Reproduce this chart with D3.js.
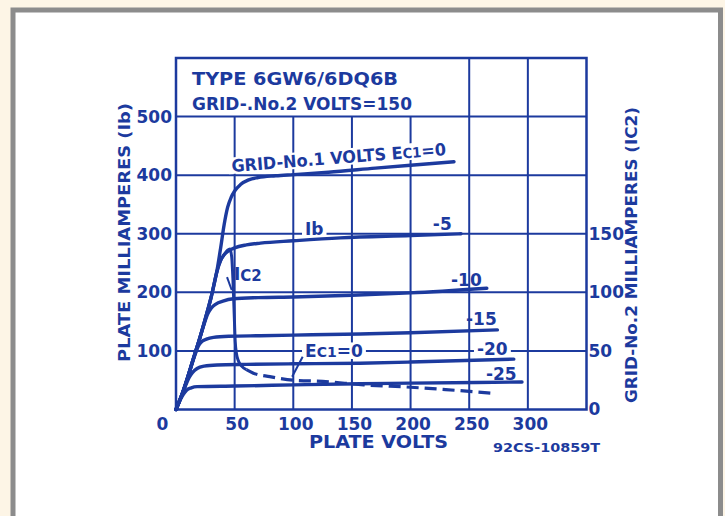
<!DOCTYPE html>
<html><head><meta charset="utf-8">
<script src="https://cdn.jsdelivr.net/npm/d3@7"></script>
<style>
html,body{margin:0;padding:0;background:#fdf5e6;}
svg{display:block;}
text{font-family:"DejaVu Sans",sans-serif;font-weight:bold;fill:#1c3a9e;}
</style></head><body>
<svg id="chart" width="725" height="516"></svg>
<script>
// ---------------- data ----------------
const plateVoltTicks = [0, 50, 100, 150, 200, 250, 300];
const plateMaTicks = [100, 200, 300, 400, 500];
const screenMaTicks = [0, 50, 100, 150];
const gridVolts = [50, 100, 150, 200, 250, 300];
const gridMa = [100, 200, 300, 400, 500];

// plate current Ib (mA) vs plate volts, for each grid-No.1 voltage
const ec1_0 = [[0,0],[5,25],[10,55],[15,88],[20,120],[25,155],[30,192],[35,238],[38,275],[41,315],[44,345],[47,362],[50,373],[55,384],[62,392],[70,396],[85,399],[100,401],[130,405],[170,412],[200,417],[237,423]];
const ec1_m5 = [[0,0],[5,25],[10,55],[15,88],[20,120],[25,155],[30,192],[35,236],[38,254],[41,264],[45,271],[50,276],[60,281],[72,284],[100,288],[140,293],[200,297],[243,300]];
const ec1_m10 = [[0,0],[5,25],[10,55],[15,88],[20,120],[24,146],[27,163],[30,173],[34,180],[40,185],[49,189],[70,191],[100,192],[150,195],[200,199],[265,207]];
const ec1_m15 = [[0,0],[5,25],[10,55],[14,80],[17,98],[19,108],[22,116],[26,120],[32,123],[45,125],[72,126],[100,127],[157,129],[200,131],[274,136]];
const ec1_m20 = [[0,0],[4,20],[8,40],[11,54],[14,63],[18,70],[24,74],[35,76],[60,77],[100,78],[157,79],[200,81],[288,86]];
const ec1_m25 = [[0,0],[3,14],[6,25],[9,33],[13,37],[18,39],[50,40],[100,42],[157,44],[200,45],[295,47]];

// grid-No.2 current Ic2 (mA, right scale) for Ec1 = 0
const ic2Solid = [[0,0],[5,12.5],[10,27.5],[15,44],[20,60],[25,77.5],[30,96],[35,118],[38,127],[41,132],[44,136],[46,137],[47.5,130],[48.5,112],[49.5,85],[50.5,58],[51.5,48],[53,42],[56,37],[60,34]];
const ic2Dashed = [[60,34],[66,31],[80,28],[100,25],[125,24],[160,21],[200,19],[230,17],[268,14]];

const plateSeries = [ec1_0, ec1_m5, ec1_m10, ec1_m15, ec1_m20, ec1_m25];
const curveLabels = ["-5", "-10", "-15", "-20", "-25"];

// ---------------- drawing ----------------
const INK = "#1c3a9e";
const svg = d3.select("#chart");

svg.append("rect").attr("x", 13).attr("y", 10).attr("width", 707.5).attr("height", 540)
  .attr("fill", "#fff").attr("stroke", "#8c8c8c").attr("stroke-width", 5);

const x = d3.scaleLinear().domain([0, 350]).range([176, 586.5]);
const y = d3.scaleLinear().domain([0, 600]).range([409.5, 58]);
const y2 = d3.scaleLinear().domain([0, 300]).range([409.5, 58]);

const gridL = svg.append("g");
const knockL = svg.append("g");
const curveL = svg.append("g");
const textL = svg.append("g");

// grid
gridL.selectAll("line.v").data(gridVolts).join("line")
  .attr("x1", d => x(d)).attr("x2", d => x(d))
  .attr("y1", y(0)).attr("y2", d => d >= 250 ? y(600) : y(500))
  .attr("stroke", INK).attr("stroke-width", 2);
gridL.selectAll("line.h").data(gridMa).join("line")
  .attr("x1", x(0)).attr("x2", x(350))
  .attr("y1", d => y(d)).attr("y2", d => y(d))
  .attr("stroke", INK).attr("stroke-width", 2);
gridL.append("rect").attr("x", x(0)).attr("y", y(600))
  .attr("width", x(350) - x(0)).attr("height", y(0) - y(600))
  .attr("fill", "none").attr("stroke", INK).attr("stroke-width", 2.5);

// axes
const fs = 17;
const left = svg.append("g").attr("transform", `translate(${x(0)},0)`)
  .call(d3.axisLeft(y).tickValues(plateMaTicks).tickSize(0).tickPadding(4));
const bottom = svg.append("g").attr("transform", `translate(0,${y(0)})`)
  .call(d3.axisBottom(x).tickValues(plateVoltTicks).tickSize(0).tickPadding(8));
const right = svg.append("g").attr("transform", `translate(${x(350)},0)`)
  .call(d3.axisRight(y2).tickValues(screenMaTicks).tickSize(0).tickPadding(2));
[left, bottom, right].forEach(g => {
  g.select(".domain").remove();
  g.selectAll("text").attr("font-size", fs).attr("fill", INK)
    .attr("font-family", '"DejaVu Sans",sans-serif').attr("font-weight", "bold");
});
bottom.selectAll(".tick text").attr("dx", d => d === 0 ? -14 : 2);

// curves
const line = d3.line().x(d => x(d[0])).y(d => y(d[1])).curve(d3.curveMonotoneX);
const line2 = d3.line().x(d => x(d[0])).y(d => y2(d[1])).curve(d3.curveMonotoneX);
curveL.selectAll("path.ib").data(plateSeries).join("path")
  .attr("d", line).attr("fill", "none").attr("stroke", INK)
  .attr("stroke-width", 3.4).attr("stroke-linejoin", "round").attr("stroke-linecap", "round");
curveL.append("path").attr("d", line2(ic2Solid)).attr("fill", "none")
  .attr("stroke", INK).attr("stroke-width", 3).attr("stroke-linejoin", "round");
curveL.append("path").attr("d", line2(ic2Dashed)).attr("fill", "none")
  .attr("stroke", INK).attr("stroke-width", 3.2).attr("stroke-dasharray", "12,6");
// leader lines
curveL.append("line").attr("x1", x(108)).attr("y1", y2(45)).attr("x2", x(99)).attr("y2", y2(28))
  .attr("stroke", INK).attr("stroke-width", 2);
curveL.append("line").attr("x1", x(43.5)).attr("y1", y2(113)).attr("x2", x(47.5)).attr("y2", y2(102))
  .attr("stroke", INK).attr("stroke-width", 2);

// labels
function label(parts, px, py, opts = {}) {
  const size = opts.size || fs;
  const tr = `translate(${px},${py})` + (opts.rotate ? ` rotate(${opts.rotate})` : "");
  const g = textL.append("g").attr("transform", tr);
  const t = g.append("text").attr("font-size", size).attr("text-anchor", opts.anchor || "start");
  parts.forEach(p => {
    const s = t.append("tspan").text(p.t);
    if (p.size) s.attr("font-size", p.size);
    if (p.dy !== undefined) s.attr("dy", p.dy);
  });
  if (opts.len) t.attr("textLength", opts.len).attr("lengthAdjust", "spacingAndGlyphs");
  if (opts.knock) {
    const b = t.node().getBBox();
    const cap = size * 0.74;
    knockL.append("rect").attr("transform", tr)
      .attr("x", b.x - 3).attr("width", b.width + 6)
      .attr("y", -cap - 2).attr("height", cap + 4).attr("fill", "#fff");
  }
  return t;
}

label([{t: "TYPE 6GW6/6DQ6B"}], 192, 85, {len: 206});
label([{t: "GRID-.No.2 VOLTS=150"}], 192, 110, {len: 220});
label([{t: "GRID-No.1 VOLTS E"}, {t: "C1", size: 14}, {t: "=0", size: 17}], x(47.7), y(405.4), {rotate: -4.5, len: 215, knock: true});

const labelAnchors = [[219, 306], [234.5, 210], [247.3, 144.3], [256.6, 93], [264.3, 50.4]];
curveLabels.forEach((s, i) => {
  label([{t: s}], x(labelAnchors[i][0]), y(labelAnchors[i][1]), {knock: s === "-20"});
});
label([{t: "I"}, {t: "b"}], x(110), y(298), {knock: true});
label([{t: "I"}, {t: "C2", size: 15, dy: 1}], x(49.4), y(221));
label([{t: "E"}, {t: "C1", size: 14}, {t: "=0", size: 17}], x(110), y(89.6), {knock: true});

label([{t: "PLATE VOLTS"}], 309, 448, {len: 139});
label([{t: "92CS-10859T"}], 493, 452, {size: 13, len: 107});
label([{t: "PLATE MILLIAMPERES (Ib)"}], 130, 232.5, {rotate: -90, anchor: "middle", size: 16, len: 259});
label([{t: "GRID-No.2 MILLIAMPERES (IC2)"}], 637, 255, {rotate: -90, anchor: "middle", size: 15, len: 296});
</script>
</body></html>
